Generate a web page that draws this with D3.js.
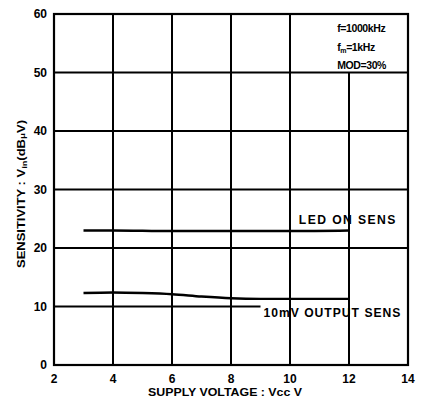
<!DOCTYPE html>
<html>
<head>
<meta charset="utf-8">
<script src="https://cdn.jsdelivr.net/npm/d3@7"></script>
<style>
  html, body { margin: 0; padding: 0; background: #fff; }
  svg { display: block; font-family: "Liberation Sans", Arial, sans-serif; }
</style>
</head>
<body>
<svg id="chart" width="424" height="404"></svg>
<script>
// ---- data ----
const xTicks = [2, 4, 6, 8, 10, 12, 14];
const yTicks = [0, 10, 20, 30, 40, 50, 60];
const ledVcc  = [3, 4, 6, 8, 10, 12];
const ledSens = [23, 23, 22.9, 22.9, 22.9, 23];
const outVcc  = [3, 4, 5, 6, 7, 8, 9, 10, 11, 12];
const outSens = [12.3, 12.4, 12.3, 12.1, 11.7, 11.4, 11.3, 11.3, 11.3, 11.3];
const notes = ["f=1000kHz", "fm=1kHz", "MOD=30%"];
const xTitle = "SUPPLY VOLTAGE : Vcc V";
const ledLabel = "LED ON SENS";
const outLabel = "10mV OUTPUT SENS";

// ---- layout ----
const svg = d3.select("#chart");
const x = d3.scaleLinear().domain([2, 14]).range([54, 408]);
const y = d3.scaleLinear().domain([0, 60]).range([365, 14]);
const line = d3.line().x(d => x(d[0])).y(d => y(d[1])).curve(d3.curveMonotoneX);

// horizontal gridlines
svg.append("g").selectAll("line")
  .data(yTicks.slice(1, -1)).enter().append("line")
  .attr("x1", x(2)).attr("x2", x(14))
  .attr("y1", d => y(d)).attr("y2", d => y(d))
  .attr("stroke", "#000").attr("stroke-width", 1.8);

// white background behind output label (hides the horizontal gridline)
svg.append("rect")
  .attr("x", x(9.0)).attr("y", y(11.2) + 5)
  .attr("width", x(14) - x(9.0)).attr("height", 16)
  .attr("fill", "#fff");

// vertical gridlines (12 V line stops below the note box)
svg.append("g").selectAll("line")
  .data(xTicks.slice(1, -1)).enter().append("line")
  .attr("x1", d => x(d)).attr("x2", d => x(d))
  .attr("y1", d => d === 12 ? y(50) : y(60)).attr("y2", y(0))
  .attr("stroke", "#000").attr("stroke-width", 2);

// frame
svg.append("rect")
  .attr("x", x(2)).attr("y", y(60))
  .attr("width", x(14) - x(2)).attr("height", y(0) - y(60))
  .attr("fill", "none").attr("stroke", "#000").attr("stroke-width", 2.2);

// curves
svg.append("path").datum(ledVcc.map((v, i) => [v, ledSens[i]]))
  .attr("d", line).attr("fill", "none").attr("stroke", "#000").attr("stroke-width", 2.4);
svg.append("path").datum(outVcc.map((v, i) => [v, outSens[i]]))
  .attr("d", line).attr("fill", "none").attr("stroke", "#000").attr("stroke-width", 2.4);

// tick labels
svg.append("g").selectAll("text")
  .data(yTicks).enter().append("text")
  .attr("x", x(2) - 7).attr("y", d => y(d) + 4)
  .attr("text-anchor", "end")
  .attr("font-size", 12).attr("font-weight", "bold")
  .text(d => d);
svg.append("g").selectAll("text")
  .data(xTicks).enter().append("text")
  .attr("x", d => x(d)).attr("y", y(0) + 18)
  .attr("text-anchor", "middle")
  .attr("font-size", 12).attr("font-weight", "bold")
  .text(d => d);

// axis titles
svg.append("text")
  .attr("x", 225).attr("y", 396)
  .attr("text-anchor", "middle")
  .attr("font-size", 11.5).attr("font-weight", "bold")
  .attr("textLength", 154).attr("lengthAdjust", "spacingAndGlyphs")
  .text(xTitle);

const yt = svg.append("text")
  .attr("transform", "translate(25,194) rotate(-90)")
  .attr("text-anchor", "middle")
  .attr("font-size", 10.5).attr("font-weight", "bold")
  .attr("textLength", 148).attr("lengthAdjust", "spacingAndGlyphs");
yt.append("tspan").text("SENSITIVITY : V");
yt.append("tspan").attr("font-size", 7.5).attr("dy", 2).text("in");
yt.append("tspan").attr("dy", -2).text("(dB");
yt.append("tspan").attr("font-size", 8).text("μ");
yt.append("tspan").text("V)");

// series labels
svg.append("text")
  .attr("x", x(10.3)).attr("y", y(23) - 6)
  .attr("font-size", 12).attr("font-weight", "bold").attr("letter-spacing", 1.4)
  .attr("textLength", 98).attr("lengthAdjust", "spacingAndGlyphs")
  .text(ledLabel);
svg.append("text")
  .attr("x", x(9.1)).attr("y", y(11.2) + 18)
  .attr("font-size", 12).attr("font-weight", "bold").attr("letter-spacing", 1.0)
  .attr("textLength", 138).attr("lengthAdjust", "spacingAndGlyphs")
  .text(outLabel);

// notes (top-right)
const nt = svg.append("g");
nt.append("text").attr("x", x(11.6)).attr("y", 32)
  .attr("font-size", 10.5).attr("font-weight", "bold").attr("letter-spacing", -0.4)
  .text(notes[0]);
const n2 = nt.append("text").attr("x", x(11.6)).attr("y", 51)
  .attr("font-size", 10.5).attr("font-weight", "bold").attr("letter-spacing", -0.4);
n2.append("tspan").text("f");
n2.append("tspan").attr("font-size", 7).attr("dy", 2).text("m");
n2.append("tspan").attr("dy", -2).text("=1kHz");
nt.append("text").attr("x", x(11.6)).attr("y", 69)
  .attr("font-size", 10.5).attr("font-weight", "bold").attr("letter-spacing", -0.4)
  .text(notes[2]);
</script>
</body>
</html>
